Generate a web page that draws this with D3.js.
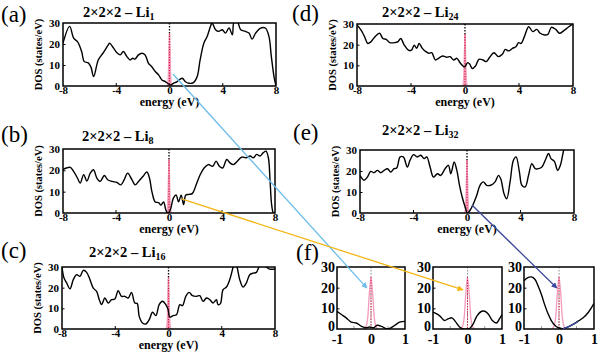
<!DOCTYPE html>
<html lang="en">
<head>
<meta charset="UTF-8">
<title>DOS Li</title>
<script src="https://cdn.jsdelivr.net/npm/d3@7"></script>
<style>
  body { margin: 0; background: #fff; }
  svg { display: block; }
  text { font-family: "Liberation Serif", "DejaVu Serif", serif; }
</style>
</head>
<body>
<svg id="svg" width="600" height="353"></svg>
<script>
// DOS curves, [energy (eV), states/eV]
const li1 = [[-8,20.4],[-7.5,28.4],[-7.2,22.8],[-6.9,21],[-6.6,16.4],[-6.4,11.6],[-6.1,11],[-5.9,9],[-5.7,4.5],[-5.35,12.4],
  [-5.0,15.6],[-4.6,19.6],[-4.5,20.4],[-4.2,18],[-3.97,16],[-3.7,14.8],[-3.47,16.4],[-3.2,14],[-2.96,12.4],[-2.76,13.2],
  [-2.6,12.8],[-2.33,14.8],[-2.08,15.6],[-1.83,14.8],[-1.58,10.8],[-1.33,9.2],[-1.07,6.9],[-0.82,5.3],[-0.57,2.9],[-0.32,2.1],
  [-0.07,1],[0.1,0.5],[0.3,1.3],[0.55,2],[0.95,3.7],[1.2,2],[1.45,1.3],[1.8,1.6],[2.08,4.5],[2.3,12.4],
  [2.58,20.4],[2.83,23.6],[3.08,28.4],[3.2,30],[3.46,26.8],[3.7,26],[3.96,26.8],[4.2,25.2],[4.47,27.6],[4.72,24.4],
  [4.85,30.5],[5.1,30.5],[5.35,26.8],[5.7,26],[5.97,25.2],[6.2,22.3],[6.47,25.2],[6.85,27.6],[7.2,27.6],[7.47,23.6],
  [7.65,14],[7.85,4.5],[8.0,0]];
const li8 = [[-8,20.3],[-7.75,21.1],[-7.45,21.4],[-7.2,19.5],[-6.9,16.3],[-6.7,14],[-6.44,18],[-6.2,15],[-5.94,18.7],[-5.7,20.3],
  [-5.44,16.3],[-5.19,14.8],[-4.88,17.6],[-4.63,15.6],[-4.3,14.8],[-3.93,14.3],[-3.63,13.2],[-3.38,15.6],[-3.12,18.7],[-2.8,15.6],
  [-2.55,13.2],[-2.3,14.8],[-1.97,17.1],[-1.67,19.2],[-1.47,16.3],[-1.29,10],[-1.04,5.2],[-0.79,4.9],[-0.61,3.7],[-0.41,5.2],
  [-0.23,1.3],[-0.09,0],[0.09,1.3],[0.34,7.1],[0.54,8.4],[0.72,5.2],[0.92,8.4],[1.1,4],[1.27,8.4],[1.52,8.7],
  [1.77,9.2],[2.05,13.2],[2.35,17.9],[2.65,21.1],[2.97,22.7],[3.3,21.9],[3.55,24.3],[3.8,21.9],[4.05,21.1],[4.36,25.1],
  [4.6,23.5],[4.86,22.7],[5.16,24.3],[5.49,26.2],[5.82,25.9],[6.12,26.7],[6.37,25.9],[6.62,27.5],[6.87,26.7],[7.12,28.3],
  [7.32,29],[7.5,25.9],[7.63,14.8],[7.75,3.7],[7.88,0],[8,0]];
const li16 = [[-8,30],[-7.85,24.7],[-7.65,22.3],[-7.4,19.4],[-7.15,23.9],[-6.9,26.3],[-6.65,25.5],[-6.4,28.4],[-6.15,27.4],[-5.9,23.9],
  [-5.65,19.8],[-5.4,18.2],[-5.2,14.2],[-5.02,11.8],[-4.78,15],[-4.53,12.6],[-4.28,14.2],[-4.03,14.5],[-3.78,18.5],[-3.53,15.8],
  [-3.28,15.8],[-3.03,15],[-2.78,17.7],[-2.53,12.6],[-2.35,12.3],[-2.2,6.1],[-1.95,2.9],[-1.7,2.4],[-1.45,4.5],[-1.2,8.1],
  [-0.95,6.5],[-0.7,11.8],[-0.45,13.4],[-0.2,11.8],[-0.03,9.4],[0.1,5.8],[0.35,6.5],[0.6,6.9],[0.85,11.8],[1.05,11.3],
  [1.3,15.8],[1.55,17.7],[1.8,16.1],[2.1,15.8],[2.35,16.1],[2.6,13.4],[2.85,15],[3.1,14.2],[3.35,12.6],[3.6,14.2],
  [3.72,11.8],[3.9,12.3],[4.1,19],[4.35,20.3],[4.6,23.9],[4.85,30],[4.97,33],[5.15,30],[5.35,23.9],[5.6,20.3],
  [5.85,22.3],[6.1,26.3],[6.35,27],[6.6,27.4],[6.8,30],[7.1,32],[7.35,30],[7.6,29],[8,29]];
const li24 = [[-8,29.5],[-7.7,27],[-7.45,24],[-7.2,20.6],[-6.95,21.5],[-6.65,24],[-6.33,25.5],[-6.08,23],[-5.83,22.6],[-5.58,21],
  [-5.2,21],[-4.96,21.5],[-4.76,23],[-4.5,19.8],[-4.2,17.4],[-3.96,17.4],[-3.76,19.8],[-3.58,18.2],[-3.4,20.6],[-3.16,18.2],
  [-2.9,16.6],[-2.66,15.8],[-2.46,16.1],[-2.2,12.6],[-1.96,13.4],[-1.66,14.5],[-1.34,13.9],[-1.1,14.2],[-0.84,12.6],[-0.6,13.4],
  [-0.34,11],[-0.1,9.4],[0,9.4],[0.2,11.3],[0.35,10.6],[0.53,8.5],[0.78,9.7],[1.03,12.9],[1.33,12.6],[1.58,11.8],
  [1.83,13.9],[2.15,16.1],[2.47,14.2],[2.78,15.5],[2.98,17.7],[3.23,17],[3.52,18.2],[3.77,19],[3.97,21],[4.15,20.6],
  [4.4,23.9],[4.72,28.7],[5.02,26.3],[5.32,27.4],[5.57,25.5],[5.9,24.7],[6.14,25],[6.4,28.4],[6.72,27.4],[7.0,25.5],
  [7.32,26.8],[7.64,28.4],[8,30]];
const li32 = [[-8,17.9],[-7.7,15.6],[-7.45,17.1],[-7.2,19.8],[-6.95,19.2],[-6.7,20.3],[-6.45,19.2],[-6.2,20.3],[-5.95,21.1],[-5.7,19.5],
  [-5.46,21.1],[-5.26,21.4],[-5.0,26.7],[-4.76,26.7],[-4.46,21.9],[-4.26,25.1],[-4.0,27.8],[-3.71,26.7],[-3.46,27.5],[-3.21,25.9],
  [-3.01,26.7],[-2.76,21.9],[-2.51,17.1],[-2.21,18.7],[-1.96,17.9],[-1.64,21.1],[-1.39,22.7],[-1.21,18.7],[-0.96,24.3],[-0.76,20.3],
  [-0.56,13.2],[-0.36,7.6],[-0.14,2.9],[0.03,0],[0.23,1.3],[0.48,4.4],[0.73,8.4],[0.97,13.2],[1.22,14.8],[1.47,13.2],
  [1.77,13.2],[2.1,14.8],[2.35,17.9],[2.52,16.3],[2.77,9.2],[2.97,6.8],[3.22,14.8],[3.47,25.1],[3.67,26.7],[3.92,19.5],
  [4.1,13.2],[4.35,12.4],[4.6,17.9],[4.85,23.5],[5.1,21.1],[5.35,21.1],[5.6,21.9],[5.85,25.1],[6.1,28.3],[6.28,25.9],
  [6.53,24.6],[6.78,20.3],[6.98,22.7],[7.23,30],[7.5,36]];
// zoom near the Fermi level, panel (f)
const zoomLi1 = [[-1,8.5],[-0.87,7],[-0.73,5.4],[-0.58,3.3],[-0.43,2.9],[-0.28,1.3],[-0.14,0.6],[-0.04,1],[0.08,0.6],[0.18,1.8],
  [0.31,1.3],[0.44,0.2],[0.55,0.3],[0.7,1.8],[0.84,3.3],[1,3.7]];
const zoomLi8 = [[-1,8.1],[-0.89,7.3],[-0.79,6.1],[-0.67,4.1],[-0.55,5],[-0.45,5.4],[-0.36,3.8],[-0.23,1],[-0.11,0],[-0.02,0],
  [0.07,0.3],[0.17,2.6],[0.28,6.5],[0.41,8.6],[0.5,8.6],[0.6,7.3],[0.72,4.1],[0.84,2.9],[0.93,5],[1,7]];
const zoomLi32 = [[-1,23.3],[-0.89,24.9],[-0.79,25.2],[-0.69,24.1],[-0.6,20.9],[-0.5,16.6],[-0.41,11.8],[-0.31,7.3],[-0.22,4.1],[-0.12,1.8],
  [-0.02,0.6],[0.12,0.2],[0.26,1],[0.4,2.2],[0.55,3.8],[0.69,5.4],[0.84,8.1],[1,12.4]];
// narrow peak at the Fermi level
const peak = [[-0.22,0],[-0.15,1],[-0.1,5],[-0.05,17],[0,25],[0.05,17],[0.1,5],[0.15,1],[0.22,0]];

const energyTicks = [-8, -4, 0, 4, 8];
const energyMinor = [-4, 4];
const zoomTicks = [-1, 0, 1];
const zoomMinor = [-0.5, 0.5];
const dosTicks = [0, 10, 20, 30];

const svg = d3.select("#svg");
const serif = '"Liberation Serif", "DejaVu Serif", serif';

const defs = svg.append("defs");
function marker(id, color) {
    defs.append("marker")
        .attr("id", id)
        .attr("viewBox", "0 0 10 10")
        .attr("refX", 9).attr("refY", 5)
        .attr("markerWidth", 6).attr("markerHeight", 6)
        .attr("markerUnits", "userSpaceOnUse")
        .attr("orient", "auto")
        .append("path")
        .attr("d", "M0,0L10,5L0,10z")
        .attr("fill", color);
}

const panels = [
    {id: "a", data: li1, sub: "1", box: [63, 276, 23, 86], lab: [1, 22], title: [83, 17]},
    {id: "d", data: li24, sub: "24", box: [357, 573, 24, 86], lab: [292, 21], title: [382, 17]},
    {id: "b", data: li8, sub: "8", box: [63, 275, 149, 213], lab: [1, 142], title: [82, 141]},
    {id: "e", data: li32, sub: "32", box: [360, 574, 150, 213], lab: [293, 140], title: [382, 135]},
    {id: "c", data: li16, sub: "16", box: [62, 275, 267, 329], lab: [1, 258], title: [89, 257]}
];
const zooms = [
    {id: "f1", data: zoomLi1, box: [337, 405, 267, 329]},
    {id: "f2", data: zoomLi8, box: [433, 502, 267, 329]},
    {id: "f3", data: zoomLi32, box: [524, 594, 267, 329]}
];

const scales = {};
const hyphen = d => String(d).replace("\u2212", "-");

function drawPanel(p, small) {
    const [x0, x1, y0, y1] = p.box;
    const x = d3.scaleLinear().domain(small ? [-1, 1] : [-8, 8]).range([x0, x1]);
    const y = d3.scaleLinear().domain([0, 30]).range([y1, y0]);
    scales[p.id] = {x, y};
    const g = svg.append("g");

    g.append("clipPath").attr("id", "clip-" + p.id)
        .append("rect").attr("x", x0).attr("y", y0).attr("width", x1 - x0).attr("height", y1 - y0);

    const fs = small ? 14 : 11;
    const xa = g.append("g")
        .attr("transform", `translate(0,${y1})`)
        .call(d3.axisBottom(x).tickValues(small ? zoomTicks : energyTicks)
            .tickSize(0).tickPadding(small ? 5 : 0.5)
            .tickFormat(hyphen));
    const ya = g.append("g")
        .attr("transform", `translate(${x0},0)`)
        .call(d3.axisLeft(y).tickValues(dosTicks).tickSize(-2.5).tickPadding(small ? 2 : 3));
    [xa, ya].forEach(a => {
        a.select(".domain").remove();
        a.selectAll("text").attr("font-family", serif).attr("font-weight", "bold")
            .attr("font-size", fs).attr("fill", "#000");
        a.selectAll("line").attr("stroke", "#000");
    });
    ya.selectAll(".tick").filter(d => d === 0 || d === 30).select("line").remove();
    if (small) ya.selectAll(".tick").filter(d => d === 0).select("text").attr("dy", "0.1em");

    g.selectAll(".minor").data(small ? zoomMinor : energyMinor).join("line")
        .attr("x1", d => x(d)).attr("x2", d => x(d))
        .attr("y1", y1).attr("y2", y1 - 3)
        .attr("stroke", small ? "#999" : "#000").attr("stroke-width", 1);

    const plot = g.append("g").attr("clip-path", `url(#clip-${p.id})`);

    // Fermi level
    plot.append("line")
        .attr("x1", x(0)).attr("x2", x(0)).attr("y1", y0).attr("y2", y1)
        .attr("stroke", small ? "#888" : "#000").attr("stroke-width", small ? 1 : 1.3)
        .attr("stroke-dasharray", "1.5,1.5");

    const line = d3.line().x(d => x(d[0])).y(d => y(d[1])).curve(d3.curveCatmullRom.alpha(0.5));

    plot.append("path").datum(peak)
        .attr("d", line)
        .attr("fill", small ? "none" : "#f4a6c0")
        .attr("stroke", "#f59bbd").attr("stroke-width", small ? 1.3 : 1);
    plot.append("line")
        .attr("x1", x(0)).attr("x2", x(0)).attr("y1", y(25)).attr("y2", y1)
        .attr("stroke", "#d8173f").attr("stroke-width", small ? 1 : 1.2)
        .attr("stroke-dasharray", "1.2,1.4");

    plot.append("path").datum(p.data)
        .attr("d", line)
        .attr("fill", "none").attr("stroke", "#000").attr("stroke-width", 1.4);

    g.append("rect")
        .attr("x", x0).attr("y", y0).attr("width", x1 - x0).attr("height", y1 - y0)
        .attr("fill", "none").attr("stroke", "#000").attr("stroke-width", 1.5);

    if (!small) {
        g.append("text")
            .attr("transform", `translate(${x0 - 21},${(y0 + y1) / 2}) rotate(-90)`)
            .attr("text-anchor", "middle")
            .attr("font-weight", "bold").attr("font-size", 10.5)
            .text("DOS (states/eV)");
        g.append("text")
            .attr("x", (x0 + x1) / 2).attr("y", y1 + 20)
            .attr("text-anchor", "middle")
            .attr("font-weight", "bold").attr("font-size", 12)
            .text("energy (eV)");
        g.append("text")
            .attr("x", p.lab[0]).attr("y", p.lab[1])
            .attr("font-size", 23)
            .text(`(${p.id})`);
        const t = g.append("text")
            .attr("x", p.title[0]).attr("y", p.title[1])
            .attr("font-weight", "bold").attr("font-size", 14.5);
        t.append("tspan").text("2×2×2 – Li");
        t.append("tspan").attr("dy", 3).attr("font-size", 10).text(p.sub);
    }
}

panels.forEach(p => drawPanel(p, false));
zooms.forEach(p => drawPanel(p, true));

svg.append("text").attr("x", 296).attr("y", 260).attr("font-size", 23).text("(f)");

// blue highlight on the Li32 zoom curve
const s3 = scales.f3;
svg.append("path")
    .datum(zoomLi32.filter(d => d[0] >= 0.1 && d[0] <= 0.55))
    .attr("d", d3.line().x(d => s3.x(d[0])).y(d => s3.y(d[1])).curve(d3.curveCatmullRom))
    .attr("fill", "none").attr("stroke", "#3b4a9c").attr("stroke-width", 1.4);

// arrows from the main panels to the zoomed views
const arrows = [
    {from: "a", to: "f1", start: [0.26, 5.7], end: [-0.12, 19.8], color: "#6cbde9"},
    {from: "b", to: "f2", start: [0.95, 6.6], end: [-0.13, 18.9], color: "#f4b515"},
    {from: "e", to: "f3", start: [0.37, 3.8], end: [-0.06, 19.8], color: "#3b4a9c"}
];
arrows.forEach((a, i) => {
    marker("arrow" + i, a.color);
    const s = scales[a.from], t = scales[a.to];
    svg.append("line")
        .attr("x1", s.x(a.start[0])).attr("y1", s.y(a.start[1]))
        .attr("x2", t.x(a.end[0])).attr("y2", t.y(a.end[1]))
        .attr("stroke", a.color).attr("stroke-width", 1.3)
        .attr("marker-end", `url(#arrow${i})`);
});
</script>
</body>
</html>
